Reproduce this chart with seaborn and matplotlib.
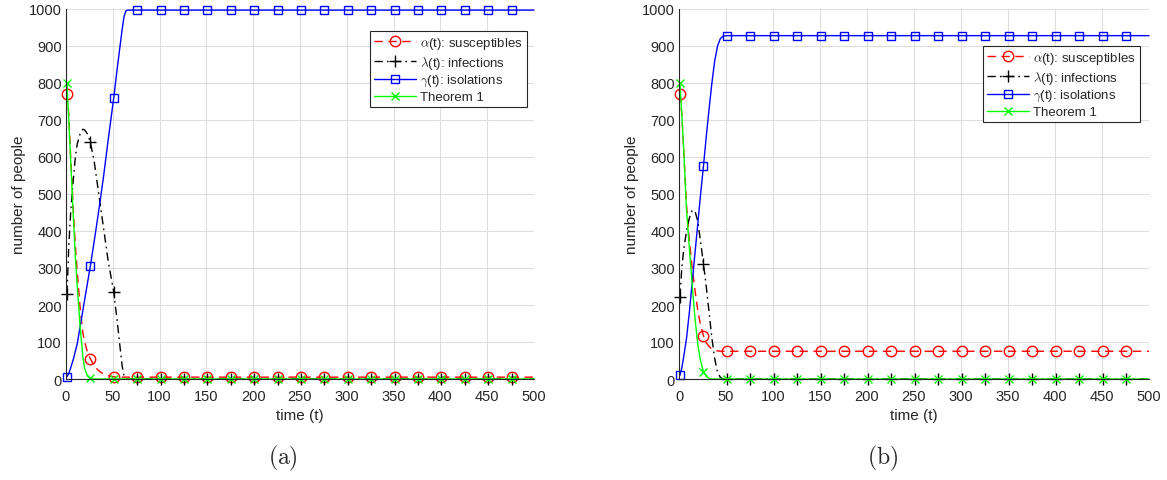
import matplotlib
matplotlib.use('Agg')
import matplotlib.pyplot as plt
import seaborn as sns

# ===================== DATA =====================
# panel (a)
t_a = [1, 3, 5, 8, 10, 12, 15, 18, 20, 23, 26, 30, 35, 40, 45, 51, 55, 58, 60, 62,
       64, 66, 70, 76, 101, 126, 151, 176, 201, 226, 251, 276, 301, 326, 351, 376,
       401, 426, 451, 476, 500]
alpha_a = [770, 715, 600, 450, 360, 290, 195, 125, 100, 72, 55, 36, 22, 14, 9, 6, 5, 5, 5, 5,
           5, 5, 5, 5, 5, 5, 5, 5, 5, 5, 5, 5, 5, 5, 5, 5,
           5, 5, 5, 5, 5]
lambda_a = [230, 360, 450, 545, 600, 635, 662, 675, 673, 662, 640, 590, 500, 410, 320, 235, 150, 80, 35, 8,
            0, 0, 0, 0, 0, 0, 0, 0, 0, 0, 0, 0, 0, 0, 0, 0,
            0, 0, 0, 0, 0]
gamma_a = [6, 15, 30, 55, 75, 95, 140, 185, 215, 260, 305, 370, 455, 545, 645, 760, 845, 905, 945, 980,
           995, 997, 997, 997, 997, 997, 997, 997, 997, 997, 997, 997, 997, 997, 997, 997,
           997, 997, 997, 997, 997]
thm_a = [800, 700, 590, 430, 330, 250, 145, 60, 28, 8, 2, 0, 0, 0, 0, 0, 0, 0, 0, 0,
         0, 0, 0, 0, 0, 0, 0, 0, 0, 0, 0, 0, 0, 0, 0, 0,
         0, 0, 0, 0, 0]

# panel (b)
t_b = [1, 3, 5, 8, 11, 14, 17, 20, 23, 26, 29, 32, 35, 38, 41, 44, 47, 51,
       76, 101, 126, 151, 176, 201, 226, 251, 276, 301, 326, 351, 376,
       401, 426, 451, 476, 500]
alpha_b = [770, 715, 620, 470, 375, 300, 240, 185, 145, 117, 98, 88, 81, 77, 76, 75, 75, 75,
           75, 75, 75, 75, 75, 75, 75, 75, 75, 75, 75, 75, 75,
           75, 75, 75, 75, 75]
lambda_b = [222, 300, 350, 400, 435, 455, 455, 425, 370, 312, 250, 180, 110, 55, 18, 4, 0, 0,
            0, 0, 0, 0, 0, 0, 0, 0, 0, 0, 0, 0, 0,
            0, 0, 0, 0, 0]
gamma_b = [10, 30, 60, 110, 180, 260, 340, 420, 500, 575, 655, 730, 800, 860, 900, 920, 927, 928,
           928, 928, 928, 928, 928, 928, 928, 928, 928, 928, 928, 928, 928,
           928, 928, 928, 928, 928]
thm_b = [800, 715, 620, 455, 355, 255, 165, 92, 48, 20, 7, 2, 0, 0, 0, 0, 0, 0,
         0, 0, 0, 0, 0, 0, 0, 0, 0, 0, 0, 0, 0,
         0, 0, 0, 0, 0]

labels = [r'$\alpha$(t): susceptibles', r'$\lambda$(t): infections',
          r'$\gamma$(t): isolations', 'Theorem 1']
x_ticks = list(range(0, 501, 50))
y_ticks = list(range(0, 1001, 100))

# ===================== STYLE =====================
sns.set_style('white')
plt.rcParams['font.family'] = ['Liberation Sans', 'DejaVu Sans']
plt.rcParams['mathtext.fontset'] = 'cm'
dark = '#262626'

styles = [
    dict(color='red', linestyle=(0, (6, 4)), marker='o', markersize=7.5),
    dict(color='black', linestyle=(0, (6, 3, 1.2, 3)), marker='+', markersize=9),
    dict(color='blue', linestyle='-', marker='s', markersize=6),
    dict(color='#00ff00', linestyle='-', marker='x', markersize=5.5),
]

fig = plt.figure(figsize=(11.67, 4.81), dpi=100)
ax_a = fig.add_axes([66 / 1167, 1 - 380 / 481, 468 / 1167, 370 / 481])
ax_b = fig.add_axes([679 / 1167, 1 - 380 / 481, 470 / 1167, 370 / 481])

panels = [
    (ax_a, t_a, [alpha_a, lambda_a, gamma_a, thm_a], (0.985, 0.9405)),
    (ax_b, t_b, [alpha_b, lambda_b, gamma_b, thm_b], (0.981, 0.90)),
]

for ax, t, series, leg_pos in panels:
    marks = [i for i, v in enumerate(t) if (v - 1) % 25 == 0]
    for y, st, lab in zip(series, styles, labels):
        sns.lineplot(x=t, y=y, ax=ax, label=lab, color=st['color'],
                     linestyle=st['linestyle'], linewidth=1.0,
                     marker=st['marker'], markersize=st['markersize'],
                     markevery=marks, markerfacecolor='none',
                     markeredgecolor=st['color'], markeredgewidth=1.0,
                     clip_on=False)
    ax.set_xlim(0, 500)
    ax.set_ylim(0, 1000)
    ax.set_xticks(x_ticks)
    ax.set_yticks(y_ticks)
    ax.grid(True, color='#dedede', linewidth=0.8)
    ax.set_axisbelow(True)
    for side in ['top', 'right']:
        ax.spines[side].set_visible(False)
    for side in ['left', 'bottom']:
        ax.spines[side].set_color(dark)
        ax.spines[side].set_linewidth(0.8)
    ax.tick_params(direction='in', length=3, width=0.6, colors=dark, labelsize=10.5)
    ax.tick_params(axis='x', pad=7)
    ax.tick_params(axis='y', pad=3)
    ax.set_xlabel('time (t)', fontsize=11, color=dark, labelpad=4)
    ax.set_ylabel('number of people', fontsize=11, color=dark, labelpad=2)
    leg = ax.legend(loc='upper right', bbox_to_anchor=leg_pos, fontsize=9.5,
                    fancybox=False, framealpha=1, edgecolor=dark,
                    handlelength=3.2, handletextpad=0.3, labelspacing=0.2,
                    borderpad=0.3, borderaxespad=0)
    leg.get_frame().set_linewidth(0.8)

fig.text(283 / 1167, 1 - 458 / 481, r'$\mathrm{(a)}$', fontsize=17, ha='center', va='center')
fig.text(883 / 1167, 1 - 458 / 481, r'$\mathrm{(b)}$', fontsize=17, ha='center', va='center')

fig.savefig('out.png', dpi=100)
